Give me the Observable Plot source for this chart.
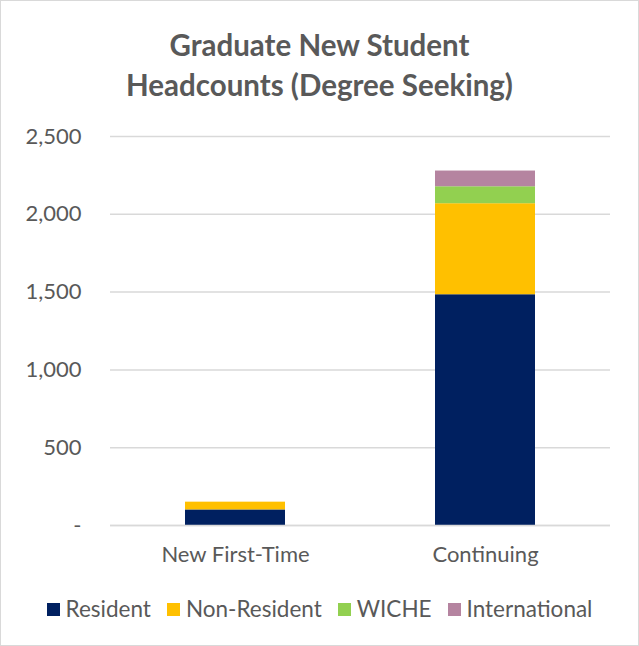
<!DOCTYPE html>
<html><head><meta charset="utf-8">
<script src="https://cdn.jsdelivr.net/npm/d3@7"></script>
<script src="https://cdn.jsdelivr.net/npm/@observablehq/plot@0.6"></script>
<style>
html,body{margin:0;padding:0;background:#fff;}
#frame{position:relative;width:637px;height:644px;border:1px solid #d9d9d9;background:#fff;font-family:Lato,"Noto Sans",sans-serif;color:#595959;overflow:hidden;}
#title{position:absolute;top:24px;left:0;width:637px;text-align:center;font-weight:bold;font-size:29.5px;line-height:40px;color:#595959;}
#chart{position:absolute;top:115px;left:0;}
#legend{position:absolute;top:594px;left:0;width:637px;text-align:center;font-size:22.5px;color:#595959;white-space:nowrap;}
.li{display:inline-block;margin:0 8px;}
.sw{display:inline-block;width:13px;height:13px;margin-right:6px;vertical-align:1px;}
</style></head>
<body><div id="frame">
<div id="title">Graduate New Student<br>Headcounts (Degree Seeking)</div>
<div id="chart"></div>
<div id="legend"></div>
</div>
<script>
const categories = ["New First-Time", "Continuing"];
const seriesNames = ["Resident", "Non-Resident", "WICHE", "International"];
const resident = [100, 1483];
const nonResident = [50, 585];
const wiche = [0, 109];
const international = [0, 101];
const colors = ["#002060", "#FFC000", "#92D050", "#B584A0"];
const yTicks = [0, 500, 1000, 1500, 2000, 2500];

const seriesValues = [resident, nonResident, wiche, international];
const data = [];
seriesNames.forEach((s, i) => categories.forEach((c, j) => data.push({category: c, series: s, value: seriesValues[i][j]})));

const fmt = v => v === 0 ? "-" : d3.format(",")(v);

const svg = Plot.plot({
  width: 637, height: 460,
  marginTop: 20, marginBottom: 51, marginLeft: 109, marginRight: 28,
  style: {fontFamily: "Lato, 'Noto Sans', sans-serif", fontSize: "22px", color: "#595959", background: "transparent"},
  x: {domain: categories, paddingInner: 0.6, paddingOuter: 0.3, label: null, tickSize: 0, tickPadding: 21},
  y: {domain: [0, 2500], ticks: yTicks, tickFormat: fmt, label: null, tickSize: 0, tickPadding: 29},
  color: {domain: seriesNames, range: colors},
  marks: [
    Plot.gridY(yTicks, {stroke: "#d9d9d9", strokeOpacity: 1, strokeWidth: 1.5}),
    Plot.barY(data, Plot.stackY({x: "category", y: "value", fill: "series", order: seriesNames})),
    Plot.ruleY([0], {stroke: "#d9d9d9", strokeWidth: 1.5})
  ]
});
document.getElementById("chart").appendChild(svg);

const lg = document.getElementById("legend");
seriesNames.forEach((s, i) => {
  const span = document.createElement("span");
  span.className = "li";
  span.innerHTML = `<span class="sw" style="background:${colors[i]}"></span>${s}`;
  lg.appendChild(span);
});
</script>
</body></html>
